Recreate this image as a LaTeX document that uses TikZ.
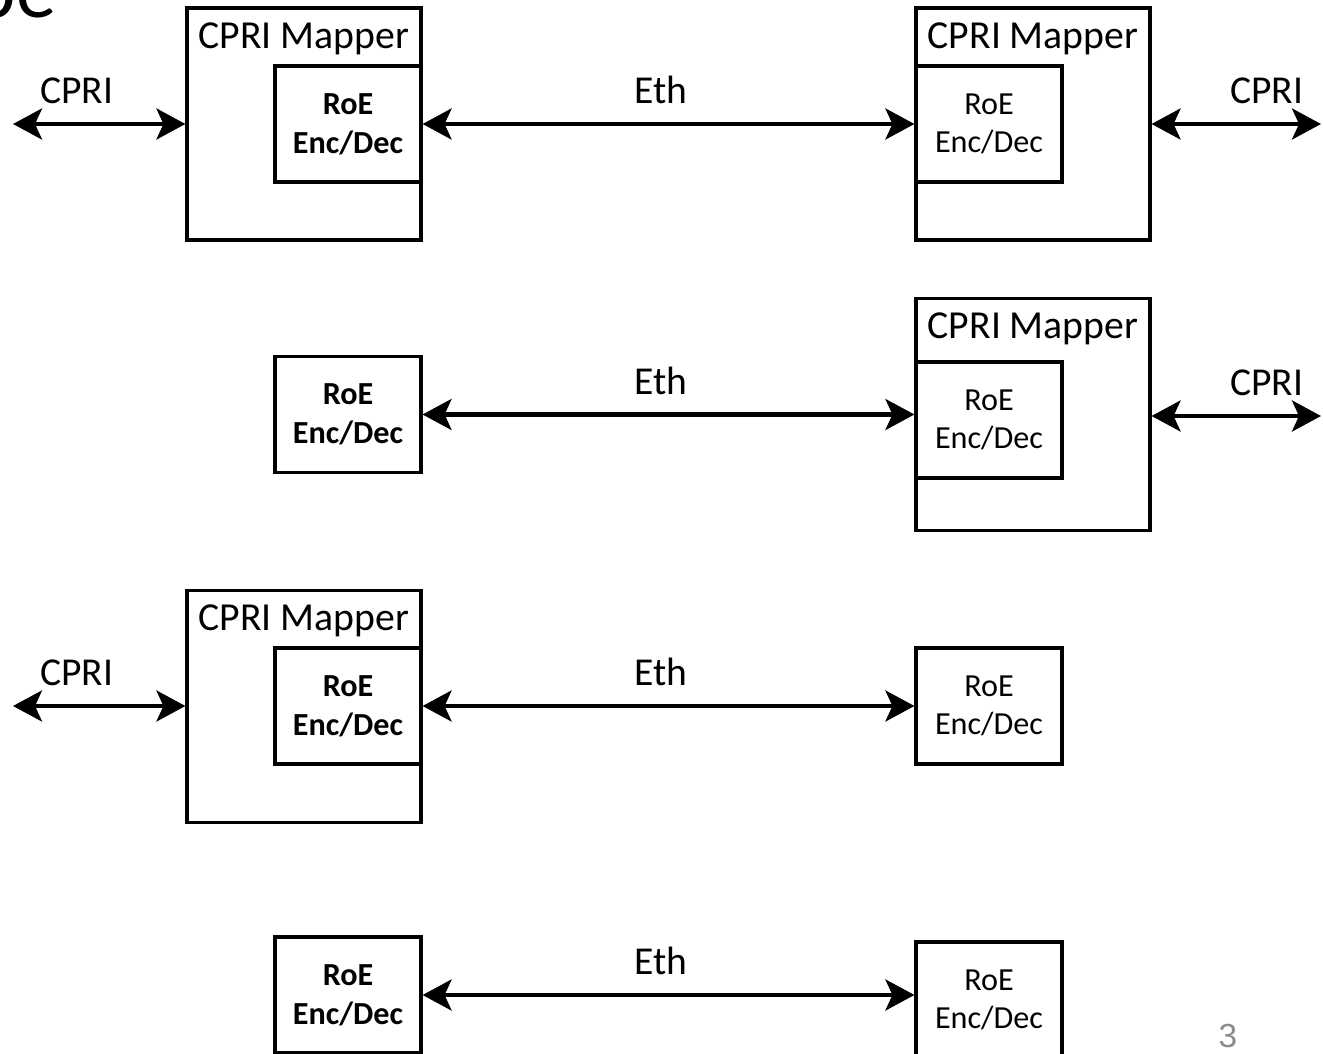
\documentclass[tikz,border=0pt]{standalone}
\usepackage{fontspec}
\setmainfont{Carlito}
\newfontfamily\numfont{Liberation Sans}
\usetikzlibrary{arrows.meta,positioning}
\definecolor{pagegray}{RGB}{140,140,140}

\begin{document}
\begin{tikzpicture}[
    x=0.02cm, y=-0.02cm,
    box/.style={draw, line width=1.8pt, inner sep=0pt},
    mapper/.style={box, minimum width=4.68cm, minimum height=4.64cm},
    codec/.style={box, minimum width=2.92cm, minimum height=2.32cm, align=center,
                  font=\fontsize{18.3}{22}\selectfont},
    bcodec/.style={codec, font=\fontsize{18.3}{22}\selectfont\bfseries},
    maptitle/.style={inner sep=0pt, font=\fontsize{22.6}{26}\selectfont},
    lbl/.style={inner sep=0pt, above=3.6mm, font=\fontsize{22.5}{26}\selectfont},
    link/.style={line width=2.3pt,
                 {Stealth[length=5.8mm,width=6.2mm,inset=1.4mm]}-{Stealth[length=5.8mm,width=6.2mm,inset=1.4mm]}}
  ]
  \useasboundingbox (0,0) rectangle (1323,1054);
  \clip (0,0) rectangle (1323,1054);

  % tail of the slide title
  \node[anchor=base east, inner sep=0pt, font=\fontsize{46}{50}\selectfont] (ttl) at (57,18) {pe};

  % row 1: mapper -- mapper
  \node[mapper] (mapA1) at (304,124) {};
  \node[maptitle, below=3.1mm of mapA1.north] (mapA1t) {CPRI Mapper};
  \node[bcodec] (encA1) at (348,124) {RoE\\Enc/Dec};
  \node[mapper] (mapB1) at (1033,124) {};
  \node[maptitle, below=3.1mm of mapB1.north] (mapB1t) {CPRI Mapper};
  \node[codec] (encB1) at (989,124) {RoE\\Enc/Dec};
  \coordinate (cprA1) at (13,124);
  \coordinate (cprB1) at (1321,124);

  \draw[link] (cprA1) -- node[lbl, pos=.37] {CPRI} (mapA1.west);
  \draw[link] (encA1.east) -- node[lbl, pos=.485] {Eth} (encB1.west);
  \draw[link] (mapB1.east) -- node[lbl, pos=.68] {CPRI} (cprB1);

  % row 2: codec -- mapper
  \node[bcodec] (encA2) at (348,414.5) {RoE\\Enc/Dec};
  \node[mapper] (mapB2) at (1033,414.5) {};
  \node[maptitle, below=3.1mm of mapB2.north] (mapB2t) {CPRI Mapper};
  \node[codec] (encB2) at (989,420) {RoE\\Enc/Dec};
  \coordinate (cprB2) at (1321,416);

  \draw[link] (encA2.east) -- node[lbl, pos=.485] {Eth} (encA2.east -| encB2.west);
  \draw[link] (mapB2.east |- cprB2) -- node[lbl, pos=.68] {CPRI} (cprB2);

  % row 3: mapper -- codec
  \node[mapper] (mapA3) at (304,706.5) {};
  \node[maptitle, below=3.1mm of mapA3.north] (mapA3t) {CPRI Mapper};
  \node[bcodec] (encA3) at (348,706) {RoE\\Enc/Dec};
  \node[codec] (encB3) at (989,706) {RoE\\Enc/Dec};
  \coordinate (cprA3) at (13,706);

  \draw[link] (cprA3) -- node[lbl, pos=.37] {CPRI} (mapA3.west |- cprA3);
  \draw[link] (encA3.east) -- node[lbl, pos=.485] {Eth} (encB3.west);

  % row 4: codec -- codec
  \node[bcodec] (encA4) at (348,995) {RoE\\Enc/Dec};
  \node[codec] (encB4) at (989,1000) {RoE\\Enc/Dec};

  \draw[link] (encA4.east) -- node[lbl, pos=.485] {Eth} (encA4.east -| encB4.west);

  % slide number
  \node[inner sep=0pt, text=pagegray, font=\numfont\fontsize{19}{21}\selectfont] (pgno) at (1228,1036) {3};
\end{tikzpicture}
\end{document}
